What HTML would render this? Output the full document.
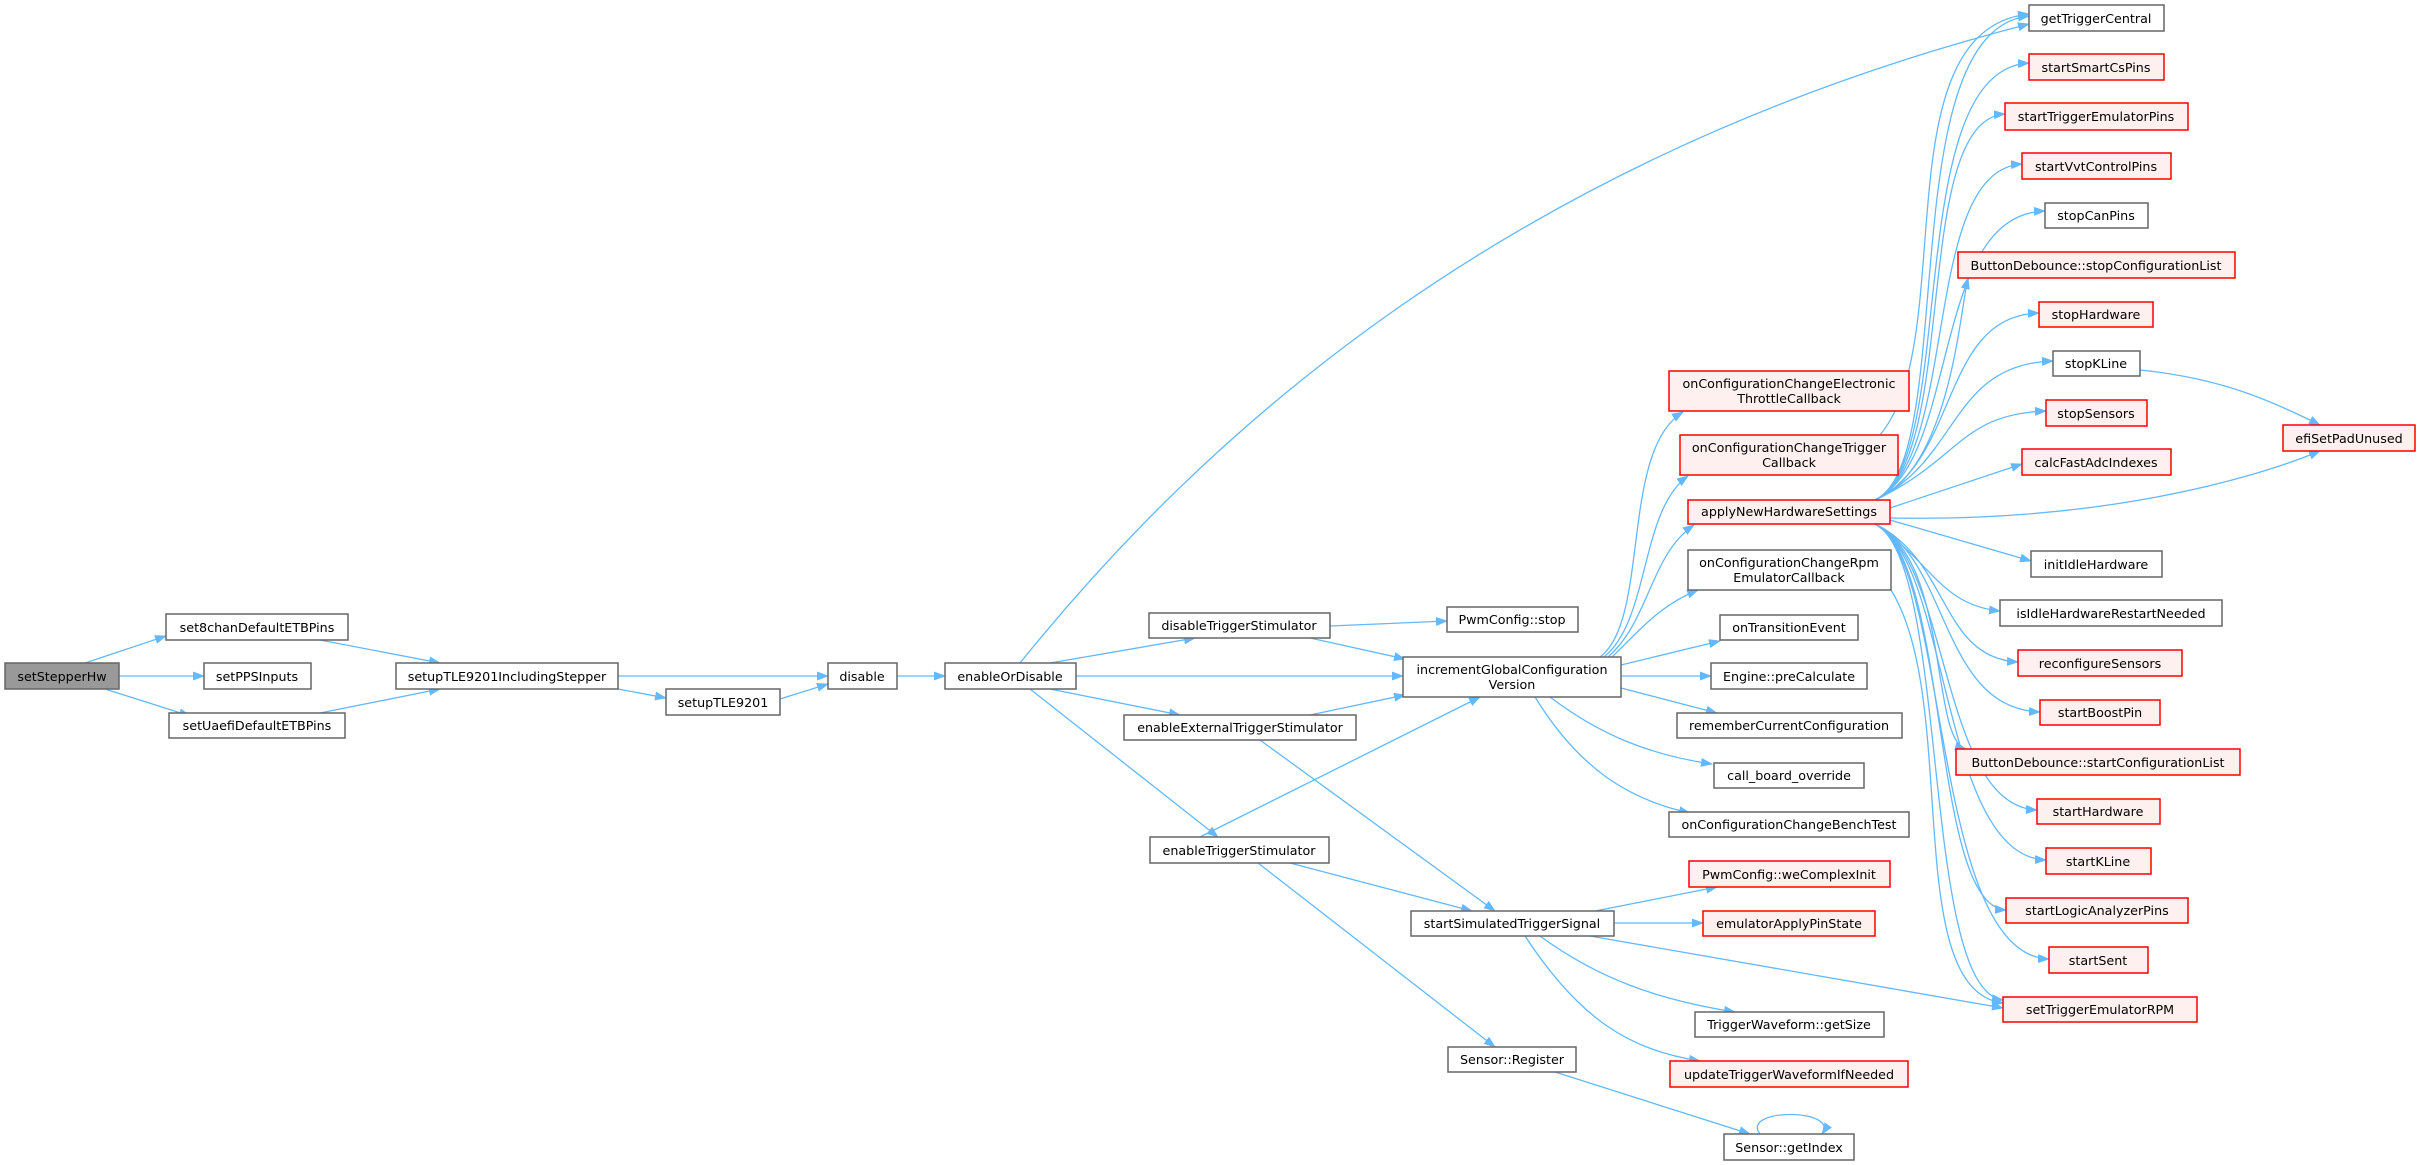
<!DOCTYPE html>
<html><head><meta charset="utf-8"><style>
html,body{margin:0;padding:0;background:#fff;}
svg{display:block;}
text{font-family:"DejaVu Sans","Liberation Sans",sans-serif;font-size:12.7px;fill:#000;text-anchor:middle;}
.n{fill:#fff;stroke:#666;stroke-width:1.5;}
.r{fill:#fff0f0;stroke:#ff0000;stroke-width:1.5;}
.g{fill:#999;stroke:#666;stroke-width:1.5;}
.e{fill:none;stroke:#63b8ff;stroke-width:1.3;marker-end:url(#a);}
</style></head><body>
<svg width="2420" height="1165" viewBox="0 0 2420 1165" xmlns="http://www.w3.org/2000/svg">
<defs><marker id="a" markerWidth="12" markerHeight="9" refX="11" refY="4.5" orient="auto" markerUnits="userSpaceOnUse"><path d="M0,0 L12,4.5 L0,9 z" fill="#63b8ff"/></marker></defs>
<g>
<path class="e" d="M85,663 L166,636"/>
<path class="e" d="M119,676 L204,676"/>
<path class="e" d="M105,689 L190,716"/>
<path class="e" d="M320,640 L440,663"/>
<path class="e" d="M320,713 L440,689"/>
<path class="e" d="M618,676 L828,676"/>
<path class="e" d="M618,689 L666,698"/>
<path class="e" d="M780,699 L828,684"/>
<path class="e" d="M897,676 L945,676"/>
<path class="e" d="M1020,663 C1200,440 1500,160 2029,24"/>
<path class="e" d="M1050,663 L1195,638"/>
<path class="e" d="M1076,676 L1403,676"/>
<path class="e" d="M1050,689 L1180,715"/>
<path class="e" d="M1030,689 L1218,837"/>
<path class="e" d="M1330,626 L1447,621"/>
<path class="e" d="M1310,638 L1405,659"/>
<path class="e" d="M1310,715 L1405,695"/>
<path class="e" d="M1260,740 L1495,911"/>
<path class="e" d="M1200,837 L1480,697"/>
<path class="e" d="M1290,863 L1472,911"/>
<path class="e" d="M1258,863 L1495,1047"/>
<path class="e" d="M1600,657 C1650,620 1620,450 1683,412"/>
<path class="e" d="M1604,657 C1650,620 1640,510 1688,476"/>
<path class="e" d="M1608,657 C1650,620 1650,555 1694,525"/>
<path class="e" d="M1612,657 C1640,630 1660,605 1698,590"/>
<path class="e" d="M1621,665 L1720,641"/>
<path class="e" d="M1621,676 L1711,676"/>
<path class="e" d="M1621,688 L1717,713"/>
<path class="e" d="M1550,697 C1600,735 1650,755 1712,764"/>
<path class="e" d="M1535,697 C1580,770 1630,800 1690,813"/>
<path class="e" d="M1595,911 L1717,887"/>
<path class="e" d="M1614,923 L1703,923"/>
<path class="e" d="M1540,936 C1600,980 1660,1000 1735,1012"/>
<path class="e" d="M1525,936 C1580,1020 1630,1050 1700,1061"/>
<path class="e" d="M1590,936 L2003,1008"/>
<path class="e" d="M1555,1072 L1750,1134"/>
<path class="e" d="M1760,1134 C1740,1108 1840,1108 1822,1134"/>
<path class="e" d="M1880,435 C1960,340 1880,30 2029,14"/>
<path class="e" d="M1891,590 C1960,700 1900,990 2003,1003"/>
<!-- applyNewHardwareSettings fan -->
<path class="e" d="M1875,500 C1960,460 1890,30 2029,16"/>
<path class="e" d="M1875,500 C1960,460 1900,70 2029,63"/>
<path class="e" d="M1875,500 C1960,460 1910,120 2005,114"/>
<path class="e" d="M1875,500 C1960,460 1920,170 2022,164"/>
<path class="e" d="M1875,500 C1960,460 1930,214 2045,211"/>
<path class="e" d="M1875,500 C1950,470 1960,310 1968,278"/>
<path class="e" d="M1875,500 C1960,460 1940,316 2039,313"/>
<path class="e" d="M1875,500 C1960,460 1950,364 2053,361"/>
<path class="e" d="M1875,500 C1960,460 1960,414 2046,411"/>
<path class="e" d="M1890,508 L2022,464"/>
<path class="e" d="M1890,518 C2100,522 2250,480 2320,451"/>
<path class="e" d="M1890,520 L2031,561"/>
<path class="e" d="M1875,524 C1930,560 1940,605 2000,611"/>
<path class="e" d="M1875,524 C1950,560 1940,658 2018,662"/>
<path class="e" d="M1875,524 C1950,560 1940,708 2040,712"/>
<path class="e" d="M1875,524 C1950,560 1930,740 1966,749"/>
<path class="e" d="M1875,524 C1950,560 1940,806 2037,810"/>
<path class="e" d="M1875,524 C1950,560 1940,856 2046,860"/>
<path class="e" d="M1875,524 C1950,560 1930,906 2006,910"/>
<path class="e" d="M1875,524 C1950,560 1930,955 2049,959"/>
<path class="e" d="M1875,524 C1950,560 1920,990 2003,1000"/>
<path class="e" d="M2140,370 C2220,378 2270,400 2320,425"/>
</g>
<g>
<rect class="g" x="5" y="663" width="114" height="26"/><text x="62" y="681">setStepperHw</text>
<rect class="n" x="166" y="614" width="182" height="26"/><text x="257" y="632">set8chanDefaultETBPins</text>
<rect class="n" x="204" y="663" width="107" height="26"/><text x="257" y="681">setPPSInputs</text>
<rect class="n" x="169" y="713" width="176" height="25"/><text x="257" y="730">setUaefiDefaultETBPins</text>
<rect class="n" x="396" y="663" width="222" height="26"/><text x="507" y="681">setupTLE9201IncludingStepper</text>
<rect class="n" x="666" y="689" width="114" height="26"/><text x="723" y="707">setupTLE9201</text>
<rect class="n" x="828" y="663" width="69" height="26"/><text x="862" y="681">disable</text>
<rect class="n" x="945" y="663" width="131" height="26"/><text x="1010" y="681">enableOrDisable</text>
<rect class="n" x="1149" y="613" width="181" height="25"/><text x="1239" y="630">disableTriggerStimulator</text>
<rect class="n" x="1124" y="715" width="232" height="25"/><text x="1240" y="732">enableExternalTriggerStimulator</text>
<rect class="n" x="1150" y="837" width="179" height="26"/><text x="1239" y="855">enableTriggerStimulator</text>
<rect class="n" x="1447" y="607" width="131" height="25"/><text x="1512" y="624">PwmConfig::stop</text>
<rect class="n" x="1403" y="657" width="218" height="40"/><text x="1512" y="674">incrementGlobalConfiguration</text><text x="1512" y="689">Version</text>
<rect class="n" x="1411" y="911" width="203" height="25"/><text x="1512" y="928">startSimulatedTriggerSignal</text>
<rect class="n" x="1448" y="1047" width="128" height="25"/><text x="1512" y="1064">Sensor::Register</text>
<rect class="r" x="1669" y="371" width="240" height="40"/><text x="1789" y="388">onConfigurationChangeElectronic</text><text x="1789" y="403">ThrottleCallback</text>
<rect class="r" x="1680" y="435" width="218" height="40"/><text x="1789" y="452">onConfigurationChangeTrigger</text><text x="1789" y="467">Callback</text>
<rect class="r" x="1688" y="500" width="202" height="24"/><text x="1789" y="516">applyNewHardwareSettings</text>
<rect class="n" x="1688" y="550" width="203" height="40"/><text x="1789" y="567">onConfigurationChangeRpm</text><text x="1789" y="582">EmulatorCallback</text>
<rect class="n" x="1720" y="615" width="138" height="25"/><text x="1789" y="632">onTransitionEvent</text>
<rect class="n" x="1711" y="663" width="156" height="26"/><text x="1789" y="681">Engine::preCalculate</text>
<rect class="n" x="1677" y="713" width="225" height="25"/><text x="1789" y="730">rememberCurrentConfiguration</text>
<rect class="n" x="1714" y="763" width="150" height="25"/><text x="1789" y="780">call_board_override</text>
<rect class="n" x="1669" y="812" width="240" height="25"/><text x="1789" y="829">onConfigurationChangeBenchTest</text>
<rect class="r" x="1689" y="861" width="201" height="26"/><text x="1789" y="879">PwmConfig::weComplexInit</text>
<rect class="r" x="1703" y="911" width="172" height="25"/><text x="1789" y="928">emulatorApplyPinState</text>
<rect class="n" x="1695" y="1012" width="189" height="25"/><text x="1789" y="1029">TriggerWaveform::getSize</text>
<rect class="r" x="1670" y="1061" width="238" height="26"/><text x="1789" y="1079">updateTriggerWaveformIfNeeded</text>
<rect class="n" x="1724" y="1134" width="130" height="26"/><text x="1789" y="1152">Sensor::getIndex</text>
<rect class="n" x="2029" y="5" width="135" height="26"/><text x="2096" y="23">getTriggerCentral</text>
<rect class="r" x="2029" y="54" width="135" height="26"/><text x="2096" y="72">startSmartCsPins</text>
<rect class="r" x="2005" y="103" width="183" height="27"/><text x="2096" y="121">startTriggerEmulatorPins</text>
<rect class="r" x="2022" y="153" width="149" height="26"/><text x="2096" y="171">startVvtControlPins</text>
<rect class="n" x="2045" y="203" width="103" height="25"/><text x="2096" y="220">stopCanPins</text>
<rect class="r" x="1958" y="252" width="277" height="26"/><text x="2096" y="270">ButtonDebounce::stopConfigurationList</text>
<rect class="r" x="2039" y="302" width="114" height="25"/><text x="2096" y="319">stopHardware</text>
<rect class="n" x="2053" y="351" width="87" height="25"/><text x="2096" y="368">stopKLine</text>
<rect class="r" x="2046" y="400" width="101" height="26"/><text x="2096" y="418">stopSensors</text>
<rect class="r" x="2022" y="449" width="149" height="26"/><text x="2096" y="467">calcFastAdcIndexes</text>
<rect class="n" x="2031" y="551" width="131" height="26"/><text x="2096" y="569">initIdleHardware</text>
<rect class="n" x="2000" y="600" width="222" height="26"/><text x="2111" y="618">isIdleHardwareRestartNeeded</text>
<rect class="r" x="2018" y="650" width="164" height="26"/><text x="2100" y="668">reconfigureSensors</text>
<rect class="r" x="2040" y="700" width="120" height="25"/><text x="2100" y="717">startBoostPin</text>
<rect class="r" x="1956" y="749" width="284" height="26"/><text x="2098" y="767">ButtonDebounce::startConfigurationList</text>
<rect class="r" x="2037" y="799" width="123" height="25"/><text x="2098" y="816">startHardware</text>
<rect class="r" x="2046" y="848" width="105" height="26"/><text x="2098" y="866">startKLine</text>
<rect class="r" x="2006" y="898" width="182" height="25"/><text x="2097" y="915">startLogicAnalyzerPins</text>
<rect class="r" x="2049" y="947" width="99" height="26"/><text x="2098" y="965">startSent</text>
<rect class="r" x="2003" y="997" width="194" height="25"/><text x="2100" y="1014">setTriggerEmulatorRPM</text>
<rect class="r" x="2283" y="425" width="132" height="26"/><text x="2349" y="443">efiSetPadUnused</text>
</g>
</svg>
</body></html>
